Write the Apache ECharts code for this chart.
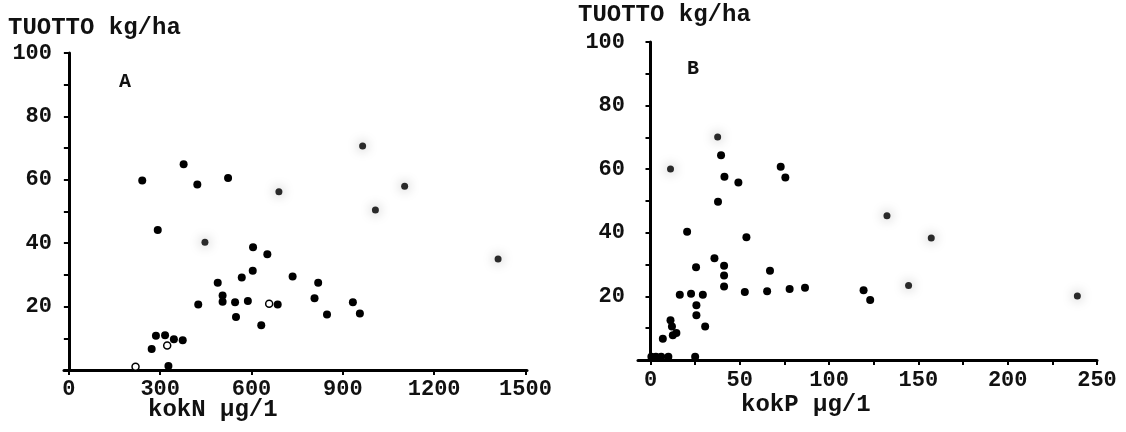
<!DOCTYPE html>
<html>
<head>
<meta charset="utf-8">
<script src="https://cdn.jsdelivr.net/npm/echarts@6/dist/echarts.min.js"></script>
<style>html,body{margin:0;padding:0;background:#fff}#c{width:1126px;height:432px}</style>
</head>
<body>
<div id="c"></div>
<script>
// Panel A: total nitrogen (kokN, µg/l) vs yield (TUOTTO, kg/ha)
const nFilled = [[241,59.8],[377,64.9],[422,58.5],[523,60.6],
  [292,44.2],[605,38.7],[652,36.5],[604,31.3],[568,29.2],[735,29.5],[489,27.5],[505,23.5],[505,21.5],
  [425,20.7],[546,21.4],[588,21.8],[686,20.7],[549,16.7],[632,14.1],
  [286,10.8],[316,11.0],[345,9.7],[374,9.4],[272,6.6],[327,1.3],
  [819,27.5],[807,22.6],[933,21.4],[848,17.5],[956,17.8]];
const nGrey = [[690,56.2],[965,70.7],[1103,58.0],[1007,50.5],[447,40.3],[1410,35.0]];
const nHollow = [[658,20.9],[323,7.7],[219,1.0]];
// Panel B: total phosphorus (kokP, µg/l) vs yield
const pFilled = [[20.5,40.3],[53.7,38.6],[35.8,32.0],[25.5,29.2],[41.2,29.6],[41.2,26.6],[41.2,23.1],[66.9,28.1],
  [16.4,20.5],[22.7,20.8],[29.3,20.5],[52.8,21.4],[65.3,21.6],[77.9,22.3],[86.5,22.7],[25.7,17.2],[25.7,14.1],[30.6,10.5],
  [11.2,12.5],[12,10.5],[14.5,8.5],[12.5,7.8],[6.9,6.7],[0.5,1],[3,1],[6,1],[10,1],[25,1],
  [39.5,64.4],[41.4,57.6],[49.2,55.8],[37.8,49.8],[72.9,60.8],[75.5,57.4],[119.3,21.9],[123,18.9]];
const pGrey = [[11.2,60.1],[37.6,70.1],[132.4,45.4],[157.2,38.4],[144.5,23.4],[239,20.1]];

const yTicks = [0,10,20,30,40,50,60,70,80,90,100];
const yLabels = [20,40,60,80,100];
const nTicks = [0,300,600,900,1200,1500];
const pTicks = [0,25,50,75,100,125,150,175,200,225,250];
const pLabels = [0,50,100,150,200,250];

const FONT = "Liberation Mono";
const lbl = {fontFamily: FONT, fontWeight: 'bold', fontSize: 22, color: '#111', formatter: (v) => String(v)};
const line = {lineStyle: {color: '#000', width: 3}};
const tick = (vals) => ({show: true, customValues: vals, length: 5, lineStyle: {color: '#000', width: 2}});

function xAx(grid, min, max, ticks, labels, margin) {
  return {type: 'value', gridIndex: grid, min: min, max: max, axisLine: line,
    axisTick: tick(ticks), splitLine: {show: false},
    axisLabel: Object.assign({customValues: labels, margin: margin}, lbl)};
}
function yAx(grid, margin) {
  return {type: 'value', gridIndex: grid, min: 0, max: 100, axisLine: line,
    axisTick: tick(yTicks), splitLine: {show: false},
    axisLabel: Object.assign({customValues: yLabels, margin: margin}, lbl)};
}
const black = {color: '#000', opacity: 1};
const grey = {color: '#2a2a2a', opacity: 1, shadowBlur: 12, shadowColor: 'rgba(0,0,0,0.4)'};
const hollow = {color: '#fff', borderColor: '#000', borderWidth: 1.5, opacity: 1};

const ttl = (text, left, top, size) => ({text: text, left: left, top: top, padding: 0,
  textStyle: {fontFamily: FONT, fontWeight: 'bold', fontSize: size, color: '#111'}});

const chart = echarts.init(document.getElementById('c'), null, {renderer: 'canvas'});
chart.setOption({
  animation: false,
  backgroundColor: '#fff',
  title: [
    ttl('TUOTTO kg/ha', 8, 16, 24),
    ttl('TUOTTO kg/ha', 578, 3, 24),
    ttl('A', 119, 72, 20),
    ttl('B', 687, 59, 20),
    ttl('kokN µg/1', 148, 398, 24),
    ttl('kokP µg/1', 741, 393, 24)
  ],
  grid: [
    {left: 64, top: 53, width: 463, height: 317},
    {left: 638, top: 42, width: 459, height: 318}
  ],
  xAxis: [
    xAx(0, -16, 1505, nTicks, nTicks, 8),
    xAx(1, -7, 250, pTicks, pLabels, 9)
  ],
  yAxis: [yAx(0, 12), yAx(1, 13)],
  series: [
    {type: 'scatter', xAxisIndex: 0, yAxisIndex: 0, data: nFilled, symbolSize: 8, itemStyle: black},
    {type: 'scatter', xAxisIndex: 0, yAxisIndex: 0, data: nGrey, symbolSize: 7, itemStyle: grey},
    {type: 'scatter', xAxisIndex: 0, yAxisIndex: 0, data: nHollow, symbolSize: 7, itemStyle: hollow},
    {type: 'scatter', xAxisIndex: 1, yAxisIndex: 1, data: pFilled, symbolSize: 8, itemStyle: black},
    {type: 'scatter', xAxisIndex: 1, yAxisIndex: 1, data: pGrey, symbolSize: 7, itemStyle: grey}
  ]
});
</script>
</body>
</html>
